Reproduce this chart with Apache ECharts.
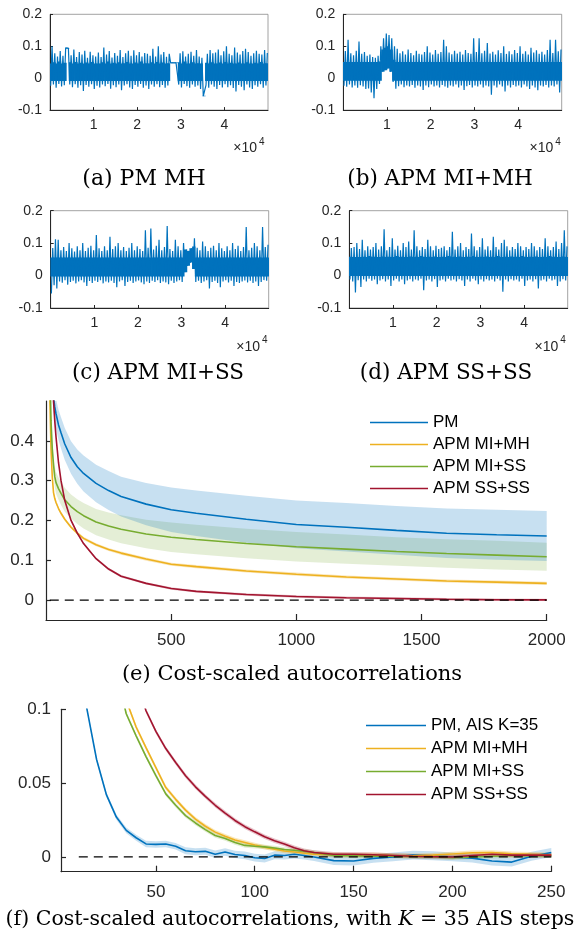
<!DOCTYPE html>
<html><head><meta charset="utf-8">
<script src="https://cdn.jsdelivr.net/npm/echarts@6/dist/echarts.min.js"></script>
<style>html,body{margin:0;padding:0;background:#fff}#c{width:579px;height:938px}</style>
</head><body><div id="c"></div>
<script>
// ---------- trace panels (a)-(d): envelope of the chain per block of iterations ----------
const segLen = 625; // iterations per block
const traceXTicks = [10000, 20000, 30000, 40000];
const traceYTicks = [-0.1, 0, 0.1, 0.2];

const aHi = [0.100,0.078,0.068,0.085,0.070, 0.095,0.094,0.072,0.090,0.066,
 0.082,0.074,0.086,0.064,0.083, 0.072,0.068,0.080,0.066,0.096,
 0.074,0.085,0.065,0.079,0.070, 0.088,0.066,0.078,0.086,0.070,
 0.087,0.072,0.082,0.068,0.079, 0.076,0.070,0.092,0.068,0.100,
 0.074,0.082,0.067,0.076,0.049, 0.049,0.049,0.078,0.084,0.068,
 0.076,0.083,0.070,0.088,0.068, 0.064,-0.055,0.076,0.088,0.078,
 0.080,0.090,0.072,0.084,0.100, 0.076,0.072,0.096,0.080,0.074,
 0.085,0.092,0.082,0.070,0.078, 0.086,0.076,0.074,0.088,0.079];
const aLo = [-0.024,-0.020,-0.030,-0.018,-0.026, -0.022,0.094,-0.020,-0.028,-0.019,
 -0.030,-0.022,-0.040,-0.021,-0.027, -0.019,-0.034,-0.024,-0.029,-0.020,
 -0.025,-0.018,-0.033,-0.022,-0.028, -0.020,-0.038,-0.023,-0.019,-0.029,
 -0.034,-0.021,-0.027,-0.018,-0.030, -0.023,-0.034,-0.020,-0.027,-0.019,
 -0.028,-0.021,-0.030,-0.023,0.048, 0.048,0.048,-0.020,-0.029,-0.018,
 -0.025,-0.030,-0.020,-0.027,-0.023, -0.034,-0.056,-0.022,-0.030,-0.020,
 -0.027,-0.034,-0.021,-0.029,-0.019, -0.028,-0.022,-0.031,-0.042,-0.021,
 -0.027,-0.038,-0.020,-0.029,-0.034, -0.022,-0.027,-0.019,-0.030,-0.023];
const aCore = [-0.009, 0.046];

const bHi = [0.085,0.120,0.078,0.072,0.086, 0.115,0.076,0.082,0.070,0.074,
 0.066,0.064,0.070,0.100,0.125, 0.140,0.135,0.125,0.100,0.092,
 0.078,0.084,0.074,0.090,0.079, 0.072,0.086,0.076,0.074,0.082,
 0.100,0.080,0.074,0.088,0.076, 0.082,0.120,0.100,0.080,0.075,
 0.086,0.077,0.083,0.074,0.088, 0.079,0.076,0.125,0.082,0.125,
 0.078,0.086,0.110,0.077,0.083, 0.074,0.087,0.079,0.100,0.076,
 0.084,0.075,0.088,0.079,0.100, 0.076,0.084,0.074,0.095,0.080,
 0.087,0.076,0.083,0.074,0.088, 0.120,0.079,0.120,0.084,0.090];
const bLo = [-0.024,-0.027,-0.020,-0.029,-0.023, -0.030,-0.022,-0.026,-0.034,-0.032,
 -0.045,-0.063,-0.034,-0.018,0.020, 0.025,0.030,0.020,-0.012,-0.033,
 -0.025,-0.020,-0.028,-0.023,-0.026, -0.021,-0.030,-0.023,-0.026,-0.037,
 -0.023,-0.028,-0.020,-0.026,-0.023, -0.029,-0.021,-0.026,-0.030,-0.023,
 -0.026,-0.020,-0.029,-0.023,-0.037, -0.025,-0.021,-0.029,-0.023,-0.026,
 -0.020,-0.029,-0.023,-0.026,-0.052, -0.023,-0.029,-0.020,-0.026,-0.042,
 -0.023,-0.029,-0.021,-0.026,-0.023, -0.029,-0.020,-0.026,-0.034,-0.023,
 -0.029,-0.038,-0.023,-0.026,-0.021, -0.029,-0.023,-0.026,-0.020,-0.045];
const bCore = [-0.008, 0.051];

const cHi = [0.085,0.112,0.110,0.078,0.088, 0.076,0.100,0.084,0.074,0.090,
 0.078,0.100,0.076,0.086,0.092, 0.078,0.125,0.084,0.076,0.090,
 0.078,0.120,0.082,0.090,0.100, 0.078,0.088,0.076,0.086,0.100,
 0.078,0.090,0.082,0.076,0.140, 0.086,0.145,0.080,0.092,0.110,
 0.078,0.088,0.153,0.082,0.076, 0.110,0.090,0.078,0.100,0.080,
 0.076,0.084,0.115,0.086,0.078, 0.105,0.090,0.076,0.086,0.092,
 0.078,0.100,0.084,0.076,0.090, 0.078,0.100,0.082,0.092,0.076,
 0.088,0.150,0.078,0.086,0.100, 0.090,0.078,0.150,0.088,0.095];
const cLo = [-0.055,-0.030,-0.040,-0.018,-0.022, -0.014,-0.028,-0.020,-0.016,-0.024,
 -0.018,-0.014,-0.021,-0.032,-0.017, -0.023,-0.016,-0.020,-0.014,-0.024,
 -0.018,-0.021,-0.016,-0.023,-0.036, -0.018,-0.014,-0.032,-0.020,-0.016,
 -0.023,-0.018,-0.015,-0.021,-0.027, -0.018,-0.023,-0.016,-0.020,-0.014,
 -0.023,-0.018,-0.021,-0.027,-0.016, -0.023,-0.018,-0.014,-0.020,0.010,
 0.030,0.040,0.020,-0.020,-0.016, -0.023,-0.018,-0.014,-0.040,-0.020,
 -0.016,-0.023,-0.036,-0.018,-0.014, -0.021,-0.016,-0.032,-0.020,-0.023,
 -0.018,-0.015,-0.021,-0.016,-0.023, -0.018,-0.032,-0.020,-0.014,-0.016];
const cCore = [-0.003, 0.056];

const dHi = [0.085,0.088,0.100,0.082,0.110, 0.078,0.090,0.080,0.088,0.100,
 0.080,0.090,0.143,0.078,0.088, 0.115,0.080,0.092,0.078,0.100,
 0.088,0.105,0.080,0.140,0.090, 0.078,0.088,0.082,0.110,0.090,
 0.078,0.092,0.082,0.086,0.090, 0.078,0.088,0.135,0.080,0.090,
 0.100,0.078,0.088,0.082,0.130, 0.090,0.078,0.088,0.115,0.080,
 0.090,0.078,0.120,0.088,0.080, 0.100,0.110,0.090,0.078,0.088,
 0.082,0.100,0.090,0.078,0.088, 0.082,0.100,0.090,0.078,0.088,
 0.082,0.115,0.090,0.078,0.088, 0.105,0.082,0.100,0.140,0.090];
const dLo = [-0.012,-0.018,-0.052,-0.014,-0.035, -0.012,-0.018,-0.010,-0.016,-0.012,
 -0.027,-0.015,-0.011,-0.018,-0.012, -0.032,-0.015,-0.010,-0.018,-0.012,
 -0.027,-0.015,-0.011,-0.018,-0.012, -0.015,-0.010,-0.045,-0.015,-0.012,
 -0.018,-0.011,-0.035,-0.015,-0.012, -0.018,-0.010,-0.015,-0.012,-0.018,
 -0.011,-0.015,-0.032,-0.012,-0.018, -0.010,-0.015,-0.027,-0.012,-0.018,
 -0.011,-0.015,-0.012,-0.018,-0.010, -0.015,-0.050,-0.012,-0.018,-0.011,
 -0.015,-0.012,-0.018,-0.010,-0.032, -0.015,-0.012,-0.018,-0.011,-0.040,
 -0.015,-0.012,-0.018,-0.010,-0.015, -0.012,-0.032,-0.018,-0.011,-0.015];
const dCore = [-0.001, 0.057];

// ---------- panel (e): cost-scaled autocorrelations ----------
const eLag = [15,20,25,30,35,40,50,60,75,100,125,150,200,250,300,400,500,600,800,1000,1200,1400,1600,1800,2000];
const ePM     = [0.68,0.6,0.55,0.51,0.485,0.468,0.44,0.42,0.392,0.358,0.335,0.318,0.293,0.275,0.26,0.241,0.227,0.218,0.203,0.190,0.183,0.175,0.168,0.164,0.161];
const ePMHalf = [0.03,0.032,0.034,0.035,0.036,0.037,0.038,0.039,0.04,0.041,0.043,0.045,0.047,0.049,0.05,0.053,0.056,0.057,0.059,0.06,0.061,0.061,0.062,0.063,0.063];
const eMIMH   = [0.52,0.38,0.31,0.27,0.255,0.245,0.23,0.218,0.203,0.183,0.168,0.155,0.139,0.127,0.118,0.103,0.090,0.084,0.073,0.065,0.058,0.053,0.048,0.045,0.042];
const eMIMHHalf = 0.004;
const eMISS   = [0.6,0.45,0.38,0.34,0.31,0.295,0.28,0.268,0.252,0.235,0.222,0.212,0.196,0.186,0.178,0.166,0.158,0.152,0.142,0.134,0.128,0.122,0.117,0.113,0.109];
const eMISSHalf = [0.02,0.022,0.024,0.025,0.026,0.027,0.028,0.029,0.03,0.03,0.031,0.032,0.033,0.034,0.035,0.036,0.037,0.037,0.037,0.037,0.037,0.036,0.036,0.036,0.035];
const eSSSS   = [0.85,0.7,0.58,0.5,0.45,0.41,0.345,0.3,0.25,0.2,0.168,0.142,0.104,0.078,0.06,0.042,0.029,0.022,0.014,0.009,0.006,0.004,0.002,0.001,0.0005];
const eSSSSHalf = 0.003;
const eZeroLine = [[15, 0], [2000, 0]];
const eXTicks = [500, 1000, 1500, 2000];
const eYTicks = [0, 0.1, 0.2, 0.3, 0.4];
const eNames = ['PM', 'APM MI+MH', 'APM MI+SS', 'APM SS+SS'];

// ---------- panel (f): with K = 35 AIS steps ----------
const fLag = [10,15,20,25,30,35,40,45,50,55,60,65,70,75,80,85,90,95,100,105,110,115,120,125,130,140,150,160,170,180,190,200,210,220,230,240,250];
const fPM = [0.17,0.101,0.066,0.042,0.027,0.018,0.013,0.0088,0.0085,0.0088,0.0072,0.0042,0.0035,0.0038,0.0018,0.0033,0.0017,0.001,-0.0005,-0.001,0.0012,0.001,0.0018,0.001,0.0,-0.0025,-0.0028,-0.001,0.0,0.0012,0.0008,0.0,-0.0008,-0.0028,-0.0035,0.0005,0.003];
const fPMHalf = [0.001,0.0012,0.0014,0.0016,0.0018,0.002,0.002,0.0022,0.0022,0.0022,0.0022,0.0024,0.0024,0.0024,0.0025,0.0025,0.0025,0.0026,0.0026,0.0027,0.0027,0.0027,0.0028,0.0028,0.0028,0.003,0.003,0.003,0.003,0.003,0.003,0.003,0.003,0.003,0.003,0.003,0.003];
const fMIMH = [null,null,null,0.17,0.135,0.106,0.088,0.074,0.0605,0.047,0.039,0.0317,0.0256,0.0208,0.0168,0.014,0.0115,0.0098,0.0081,0.0066,0.0053,0.004,0.0033,0.0025,0.0018,0.0015,0.0012,0.0015,0.001,0.0008,0.0012,0.002,0.0028,0.003,0.0022,0.0018,0.0015];
const fMISS = [null,null,null,0.16,0.125,0.097,0.082,0.068,0.055,0.0427,0.035,0.028,0.023,0.0185,0.0145,0.0125,0.0098,0.0078,0.0072,0.0068,0.006,0.005,0.0045,0.0038,0.003,0.001,0.0008,0.0005,0.0005,0.0003,0.0,-0.0005,0.0,0.0005,0.0008,0.0008,0.0008];
const fSSSS = [null,null,null,null,null,0.145,0.12,0.099,0.085,0.0734,0.064,0.055,0.0475,0.041,0.035,0.0297,0.0247,0.0205,0.017,0.0137,0.011,0.0088,0.0062,0.0042,0.003,0.0018,0.0018,0.0015,0.001,0.0005,0.0002,0.0,0.001,0.0018,0.0012,0.0012,0.0012];
const fAPMHalf = 0.0015;
const fZeroLine = [[11, 0], [250, 0]];
const fXTicks = [50, 100, 150, 200, 250];
const fYTicks = [0, 0.05, 0.1];
const fNames = ['PM, AIS K=35', 'APM MI+MH', 'APM MI+SS', 'APM SS+SS'];

// ---------- styling ----------
const COLORS = ['#0072BD', '#EDB120', '#77AC30', '#A2142F'];
const BANDS = ['rgba(0,114,189,0.22)', 'rgba(237,177,32,0.3)', 'rgba(119,172,48,0.2)', 'rgba(162,20,47,0.25)'];
const AX = '#262626';
const SANS = '"Liberation Sans", Arial, sans-serif';
const SERIF = '"DejaVu Serif", serif';
const CORE_SPAN = 0.07; // minimum thickness of the dense part of a trace block

function zig(lo, hi) {
  const d = [];
  for (let i = 0; i < lo.length; i++) {
    d.push([i * segLen + segLen * 0.25, lo[i]]);
    d.push([i * segLen + segLen * 0.75, hi[i]]);
  }
  return d;
}
function blocks(lo, hi) { return lo.map((v, i) => [i * segLen, v, hi[i]]); }
function pairs(xs, ys) { return xs.map((x, i) => [x, ys[i]]); }
function halfAt(h, i) { return Array.isArray(h) ? h[i] : h; }

function coreSeries(gi, lo, hi, core) {
  return {
    type: 'custom', xAxisIndex: gi, yAxisIndex: gi, data: blocks(lo, hi), silent: true, z: 1, clip: true,
    encode: { x: 0, y: [1, 2] },
    renderItem: function (params, api) {
      const x = api.value(0), l = api.value(1), h = api.value(2);
      const top = Math.min(h, Math.max(core[1], l + CORE_SPAN));
      const bot = Math.max(l, Math.min(core[0], h - CORE_SPAN));
      if (top < bot) return null;
      const p1 = api.coord([x, top]), p2 = api.coord([x + segLen, bot]);
      return { type: 'rect', shape: { x: p1[0] - 0.3, y: p1[1], width: p2[0] - p1[0] + 0.6, height: Math.max(p2[1] - p1[1], 0.6) },
        style: { fill: COLORS[0] } };
    }
  };
}

function band(gi, xs, ys, half, color) {
  return {
    type: 'custom', xAxisIndex: gi, yAxisIndex: gi, data: [0], silent: true, z: 1, clip: true,
    renderItem: function (params, api) {
      const up = [], dn = [];
      for (let i = 0; i < xs.length; i++) {
        if (ys[i] == null) continue;
        const h = halfAt(half, i);
        up.push(api.coord([xs[i], ys[i] + h]));
        dn.push(api.coord([xs[i], ys[i] - h]));
      }
      return { type: 'polygon', shape: { points: up.concat(dn.reverse()) }, style: { fill: color } };
    }
  };
}
function curve(gi, name, xs, ys, color) {
  return { type: 'line', name: name, xAxisIndex: gi, yAxisIndex: gi, data: pairs(xs, ys),
    symbol: 'none', showSymbol: false, clip: true, z: 3, connectNulls: false,
    lineStyle: { color: color, width: 1.6 }, itemStyle: { color: color } };
}
function zeroLine(gi, d) {
  return { type: 'line', xAxisIndex: gi, yAxisIndex: gi, data: d, symbol: 'none', silent: true, z: 4,
    lineStyle: { color: '#000', width: 1.3, type: [9, 6] } };
}

const grids = [
  { left: 50, top: 14.3, width: 218, height: 95.8 },
  { left: 343.3, top: 14.3, width: 218.4, height: 95.8 },
  { left: 50.7, top: 210.7, width: 218, height: 97.3 },
  { left: 349.3, top: 210.7, width: 218.4, height: 97.3 },
  { left: 46, top: 401, width: 500.7, height: 219 },
  { left: 61, top: 709.3, width: 490.3, height: 162.4 }
].map((g, i) => Object.assign(g, i < 4 ? { show: true, borderColor: '#8a8a8a', borderWidth: 0.8 } : {}));

const plainNum = v => String(v);
const xAxes = [], yAxes = [];
for (let gi = 0; gi < 4; gi++) {
  xAxes.push({ type: 'value', gridIndex: gi, min: 0, max: 50000,
    axisLine: { show: true, onZero: false, lineStyle: { color: AX, width: 1 } },
    axisTick: { show: true, inside: true, length: 3, customValues: traceXTicks, lineStyle: { color: AX } },
    axisLabel: { customValues: traceXTicks, formatter: v => String(v / 10000), fontSize: 14, fontFamily: SANS, color: AX, margin: 8 },
    splitLine: { show: false } });
  yAxes.push({ type: 'value', gridIndex: gi, min: -0.1, max: 0.2,
    axisLine: { show: true, onZero: false, lineStyle: { color: AX, width: 1 } },
    axisTick: { show: true, inside: true, length: 3, customValues: traceYTicks, lineStyle: { color: AX } },
    axisLabel: { customValues: traceYTicks, formatter: plainNum, fontSize: 14, fontFamily: SANS, color: AX, margin: 8 },
    splitLine: { show: false } });
}
xAxes.push({ type: 'value', gridIndex: 4, min: 0, max: 2000,
  axisLine: { show: true, onZero: false, lineStyle: { color: AX, width: 1.2 } },
  axisTick: { show: true, inside: true, length: 6, customValues: eXTicks, lineStyle: { color: AX, width: 1.2 } },
  axisLabel: { customValues: eXTicks, formatter: plainNum, fontSize: 17, fontFamily: SANS, color: AX, margin: 12 },
  splitLine: { show: false } });
yAxes.push({ type: 'value', gridIndex: 4, min: -0.05, max: 0.5,
  axisLine: { show: true, onZero: false, lineStyle: { color: AX, width: 1.2 } },
  axisTick: { show: true, inside: true, length: 5, customValues: eYTicks, lineStyle: { color: AX, width: 1.2 } },
  axisLabel: { customValues: eYTicks, formatter: plainNum, fontSize: 17, fontFamily: SANS, color: AX, margin: 12 },
  splitLine: { show: false } });
xAxes.push({ type: 'value', gridIndex: 5, min: 2, max: 250,
  axisLine: { show: true, onZero: false, lineStyle: { color: AX, width: 1.2 } },
  axisTick: { show: true, inside: true, length: 6, customValues: fXTicks, lineStyle: { color: AX, width: 1.2 } },
  axisLabel: { customValues: fXTicks, formatter: plainNum, fontSize: 17, fontFamily: SANS, color: AX, margin: 12 },
  splitLine: { show: false } });
yAxes.push({ type: 'value', gridIndex: 5, min: -0.01, max: 0.1,
  axisLine: { show: true, onZero: false, lineStyle: { color: AX, width: 1.2 } },
  axisTick: { show: true, inside: true, length: 5, customValues: fYTicks, lineStyle: { color: AX, width: 1.2 } },
  axisLabel: { customValues: fYTicks, formatter: plainNum, fontSize: 17, fontFamily: SANS, color: AX, margin: 10 },
  splitLine: { show: false } });

const series = [];
[[aLo, aHi, aCore], [bLo, bHi, bCore], [cLo, cHi, cCore], [dLo, dHi, dCore]].forEach((p, gi) => {
  series.push(coreSeries(gi, p[0], p[1], p[2]));
  series.push({ type: 'line', xAxisIndex: gi, yAxisIndex: gi, data: zig(p[0], p[1]), symbol: 'none',
    silent: true, clip: true, z: 2, lineStyle: { color: COLORS[0], width: 1.2 } });
});
// panel (e)
const eY = [ePM, eMIMH, eMISS, eSSSS], eH = [ePMHalf, eMIMHHalf, eMISSHalf, eSSSSHalf];
[2, 0, 1, 3].forEach(k => series.push(band(4, eLag, eY[k], eH[k], BANDS[k])));
eY.forEach((ys, k) => series.push(curve(4, eNames[k], eLag, ys, COLORS[k])));
series.push(zeroLine(4, eZeroLine));
// panel (f)
const fY = [fPM, fMIMH, fMISS, fSSSS], fH = [fPMHalf, fAPMHalf, fAPMHalf, fAPMHalf];
[0, 1, 2, 3].forEach(k => series.push(band(5, fLag, fY[k], fH[k], BANDS[k])));
fY.forEach((ys, k) => series.push(curve(5, fNames[k], fLag, ys, COLORS[k])));
series.push(zeroLine(5, fZeroLine));

function legend(left, top, w, gap, names) {
  return { show: true, orient: 'vertical', left: left, top: top, itemWidth: w, itemHeight: 14, itemGap: gap,
    icon: 'path://M0,0L' + w + ',0L' + w + ',1.6L0,1.6Z', symbolKeepAspect: true,
    selectedMode: false, data: names, padding: 0,
    textStyle: { fontSize: 17, fontFamily: SANS, color: '#000' } };
}

function txt(text, x, y, size) {
  return { type: 'text', x: x, y: y, silent: true,
    style: { text: text, font: size + 'px ' + SERIF, fill: '#000', textAlign: 'center', textVerticalAlign: 'middle' } };
}
const expFont = '14px ' + SANS, supFont = '10px ' + SANS;
function times10(xRight, y) {
  return [
    { type: 'text', x: xRight, y: y, silent: true, style: { text: '×10', font: expFont, fill: AX, textAlign: 'right', textVerticalAlign: 'middle' } },
    { type: 'text', x: xRight + 2, y: y - 6, silent: true, style: { text: '4', font: supFont, fill: AX, textAlign: 'left', textVerticalAlign: 'middle' } }
  ];
}
const graphics = [].concat(
  times10(257, 148.3), times10(553.3, 148.3), times10(260, 346.7), times10(558.3, 346.7),
  [txt('(a) PM MH', 144, 179, 22), txt('(b) APM MI+MH', 440, 179, 21.5),
   txt('(c) APM MI+SS', 158, 373, 21.5), txt('(d) APM SS+SS', 446, 373, 21.5),
   txt('(e) Cost-scaled autocorrelations', 292, 675, 21),
   { type: 'text', x: 290, y: 920, silent: true,
     style: { text: '(f) Cost-scaled autocorrelations, with {k|K} = 35 AIS steps', font: '20.5px ' + SERIF, fill: '#000',
       textAlign: 'center', textVerticalAlign: 'middle',
       rich: { k: { fontStyle: 'italic', fontFamily: SERIF, fontSize: 20.5, fill: '#000' } } } }]
);

const chart = echarts.init(document.getElementById('c'));
chart.setOption({
  animation: false,
  backgroundColor: '#fff',
  grid: grids,
  xAxis: xAxes,
  yAxis: yAxes,
  legend: [legend(370, 414, 58, 5, eNames), legend(366, 717, 60, 6, fNames)],
  series: series,
  graphic: graphics
});
</script></body></html>
